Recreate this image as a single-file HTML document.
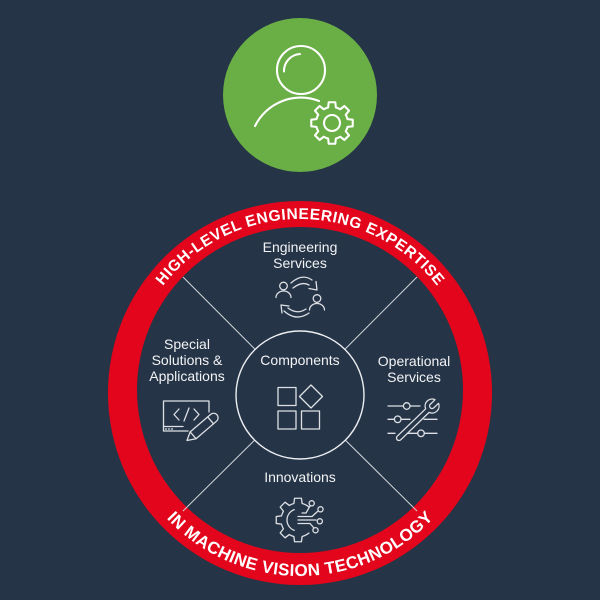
<!DOCTYPE html>
<html>
<head>
<meta charset="utf-8">
<style>
  html,body{margin:0;padding:0;background:#253447;}
  svg{display:block;}
  .lbl{font-family:"Liberation Sans",sans-serif;font-size:14px;fill:#f2f3f5;text-anchor:middle;}
  .ic{fill:none;stroke:#dde0e5;stroke-width:1.3;stroke-linecap:round;stroke-linejoin:round;}
</style>
</head>
<body>
<svg width="600" height="600" viewBox="0 0 600 600" xmlns="http://www.w3.org/2000/svg">
  <rect x="0" y="0" width="600" height="600" fill="#253447"/>

  <!-- Green top circle -->
  <circle cx="300" cy="95" r="77" fill="#6aae46"/>
  <g fill="none" stroke="#ffffff" stroke-width="2.1" stroke-linecap="round" stroke-linejoin="round">
    <circle cx="301" cy="70" r="24"/>
    <path d="M284,71.5 A17,17 0 0 1 300,54"/>
    <path d="M255,126 A51,51 0 0 1 319,101"/>
    <g transform="translate(332,123)">
      <path fill="#6aae46" d="M15.52,-3.87 L20.74,-3.29 L20.74,3.29 L15.52,3.87 A16,16 0 0 1 13.72,8.24 L16.99,12.34 L12.34,16.99 L8.24,13.72 A16,16 0 0 1 3.87,15.52 L3.29,20.74 L-3.29,20.74 L-3.87,15.52 A16,16 0 0 1 -8.24,13.72 L-12.34,16.99 L-16.99,12.34 L-13.72,8.24 A16,16 0 0 1 -15.52,3.87 L-20.74,3.29 L-20.74,-3.29 L-15.52,-3.87 A16,16 0 0 1 -13.72,-8.24 L-16.99,-12.34 L-12.34,-16.99 L-8.24,-13.72 A16,16 0 0 1 -3.87,-15.52 L-3.29,-20.74 L3.29,-20.74 L3.87,-15.52 A16,16 0 0 1 8.24,-13.72 L12.34,-16.99 L16.99,-12.34 L13.72,-8.24 A16,16 0 0 1 15.52,-3.87 Z"/>
      <circle cx="0" cy="0" r="8"/>
    </g>
  </g>

  <!-- Red ring -->
  <circle cx="300" cy="393" r="192" fill="#e3051b"/>
  <circle cx="300" cy="390" r="163" fill="#253447"/>

  <!-- Ring text -->
  <defs>
    <path id="arcTop" d="M126,393 A174,174 0 0 1 474,393"/>
    <path id="arcBot" d="M117,393 A183,183 0 0 0 483,393"/>
  </defs>
  <text font-family="Liberation Sans, sans-serif" font-weight="bold" font-size="15.5" fill="#ffffff">
    <textPath href="#arcTop" startOffset="50%" text-anchor="middle" textLength="316" lengthAdjust="spacing">HIGH-LEVEL ENGINEERING EXPERTISE</textPath>
  </text>
  <text font-family="Liberation Sans, sans-serif" font-weight="bold" font-size="17" fill="#ffffff">
    <textPath href="#arcBot" startOffset="50%" text-anchor="middle" textLength="299" lengthAdjust="spacing">IN MACHINE VISION TECHNOLOGY</textPath>
  </text>

  <!-- Divider lines -->
  <g stroke="#d3d7dd" stroke-width="1">
    <line x1="254.8" y1="349" x2="183" y2="277"/>
    <line x1="345.2" y1="349" x2="417" y2="277"/>
    <line x1="254.8" y1="440" x2="183" y2="511"/>
    <line x1="345.2" y1="440" x2="417" y2="511"/>
  </g>

  <!-- Center circle -->
  <circle cx="300" cy="395" r="64" fill="#253447" stroke="#eceef1" stroke-width="1.4"/>

  <!-- Labels -->
  <text class="lbl" x="300" y="252">Engineering</text>
  <text class="lbl" x="300" y="268">Services</text>
  <text class="lbl" x="300" y="365">Components</text>
  <text class="lbl" x="187" y="349">Special</text>
  <text class="lbl" x="187" y="365">Solutions &amp;</text>
  <text class="lbl" x="187" y="381">Applications</text>
  <text class="lbl" x="414" y="366">Operational</text>
  <text class="lbl" x="414" y="382">Services</text>
  <text class="lbl" x="300" y="482">Innovations</text>

  <!-- Engineering services icon -->
  <g class="ic">
    <circle cx="283.5" cy="286" r="3.8"/>
    <path d="M276,297.5 A7.5,6.5 0 0 1 291,297.5"/>
    <circle cx="317" cy="298.5" r="3.8"/>
    <path d="M309.5,310 A7.5,6.5 0 0 1 324.5,310"/>
    <path d="M291,283 Q302,273 312,280"/>
    <path d="M293,288 Q302,281 309,285"/>
    <path d="M309,288.5 L317,290 L316,281.5"/>
    <path d="M309,313 Q296,322 284,311"/>
    <path d="M306,309 Q297,315 288,308"/>
    <path d="M289,306 L281,305 L282,313"/>
  </g>

  <!-- Components icon -->
  <g class="ic">
    <rect x="278" y="387.5" width="18" height="18"/>
    <rect x="278" y="411" width="18" height="18"/>
    <rect x="301.5" y="411" width="18" height="18"/>
    <polygon points="311,385 322.5,396.5 311,408 299.5,396.5"/>
  </g>

  <!-- Special solutions icon -->
  <g class="ic">
    <path d="M209,412 V401 H163.5 V431 H188"/>
    <line x1="163.5" y1="426.5" x2="183" y2="426.5"/>
    <line x1="165.5" y1="429" x2="166.5" y2="429"/>
    <line x1="168.5" y1="429" x2="169.5" y2="429"/>
    <line x1="171.5" y1="429" x2="172.5" y2="429"/>
    <polyline points="179,409 174,414.5 179,420"/>
    <line x1="189" y1="408" x2="184" y2="421"/>
    <polyline points="194,409 199,414.5 194,420"/>
    <g transform="translate(187,440.5) rotate(-40.5)">
      <path fill="#253447" d="M0,0 L8,-4.5 H35 A4.5,4.5 0 0 1 35,4.5 H8 Z"/>
      <line x1="8" y1="-4.5" x2="8" y2="4.5"/>
      <line x1="31" y1="-4.5" x2="31" y2="4.5"/>
    </g>
  </g>

  <!-- Operational services icon -->
  <g class="ic">
    <line x1="388" y1="406" x2="403.4" y2="406"/>
    <circle cx="406.7" cy="406" r="3.3"/>
    <line x1="410" y1="406" x2="420" y2="406"/>
    <line x1="388" y1="419.3" x2="394.4" y2="419.3"/>
    <circle cx="397.7" cy="419.3" r="3.3"/>
    <line x1="401" y1="419.3" x2="410" y2="419.3"/>
    <line x1="424" y1="419.3" x2="437" y2="419.3"/>
    <line x1="388" y1="433.3" x2="395" y2="433.3"/>
    <line x1="407" y1="433.3" x2="417.7" y2="433.3"/>
    <circle cx="421" cy="433.3" r="3.3"/>
    <line x1="424.3" y1="433.3" x2="437" y2="433.3"/>
    <g transform="translate(399,438) rotate(-44)">
      <path fill="#253447" d="M0,-2.5 H39.46 A7,7 0 0 1 52.54,-2.5 H46 A2.5,2.5 0 0 0 46,2.5 H52.54 A7,7 0 0 1 39.46,2.5 H0 A2.5,2.5 0 0 1 0,-2.5 Z"/>
    </g>
  </g>

  <!-- Innovations icon -->
  <g class="ic" transform="translate(298,520)">
    <path d="M10.93,13.02 A17,17 0 0 1 4.11,16.50 L3.44,21.73 L-3.44,21.73 L-4.11,16.50 A17,17 0 0 1 -8.76,14.57 L-12.93,17.80 L-17.80,12.93 L-14.57,8.76 A17,17 0 0 1 -16.50,4.11 L-21.73,3.44 L-21.73,-3.44 L-16.50,-4.11 A17,17 0 0 1 -14.57,-8.76 L-17.80,-12.93 L-12.93,-17.80 L-8.76,-14.57 A17,17 0 0 1 -4.11,-16.50 L-3.44,-21.73 L3.44,-21.73 L4.11,-16.50 A17,17 0 0 1 10.93,-13.02"/>
    <path d="M-3.76,10.34 A11,11 0 0 1 -3.76,-10.34"/>
    <line x1="0" y1="-3.5" x2="14" y2="-3.5"/>
    <line x1="0" y1="0" x2="18" y2="0"/>
    <line x1="0" y1="3.5" x2="12" y2="3.5"/>
    <path d="M4,-7 L8,-7 L12,-14"/>
    <circle cx="13.7" cy="-16.7" r="2.6"/>
    <path d="M14,-3.5 L19.5,-8.5"/>
    <circle cx="22.5" cy="-10.7" r="2.6"/>
    <circle cx="21.8" cy="1.3" r="2.6"/>
    <path d="M12,3.5 L16,8"/>
    <circle cx="17.5" cy="10.2" r="2.6"/>
  </g>
</svg>
</body>
</html>
